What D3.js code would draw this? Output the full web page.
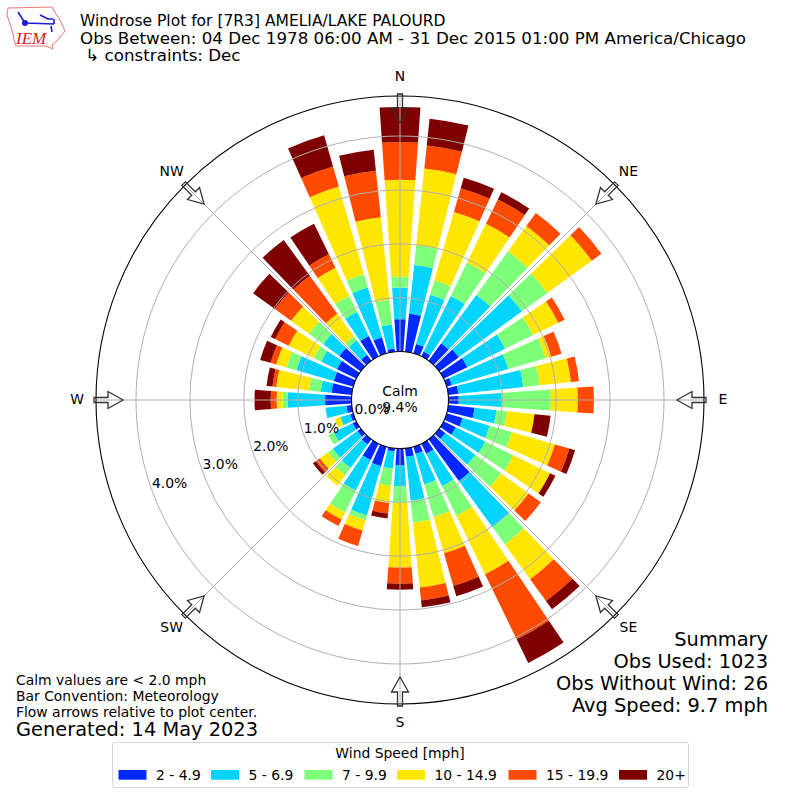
<!DOCTYPE html>
<html>
<head>
<meta charset="utf-8">
<script src="https://cdn.jsdelivr.net/npm/d3@7"></script>
<style>
	html, body { margin: 0; padding: 0; background: #fff; }
	svg { display: block; }
	text { font-family: "DejaVu Sans", sans-serif; fill: #000; }
</style>
</head>
<body>
<div id="chart"></div>
<script>
// directions in degrees, percent of obs per speed bin
const directions = [0,10,20,30,40,50,60,70,80,90,100,110,120,130,140,150,160,170,180,190,200,210,220,230,240,250,260,270,280,290,300,310,320,330,340,350];
const bin1 = [.60,.71,.18,.10,.40,.45,.49,.10,.19,.19,.49,.31,.25,.14,.96,.21,.14,.16,.31,.06,.38,.34,.12,.08,.08,.06,.10,.49,.38,.38,.40,.49,.14,.42,.31,.06];
const bin2 = [.59,.91,.95,1.15,1.11,1.45,.78,1.09,1.21,.80,.41,.52,.61,.69,1.06,.67,.59,.82,.39,.32,.95,.63,.54,.56,.39,.19,.39,.70,.20,.72,.33,.37,.33,.50,.96,.45];
const bin3 = [.20,.37,.28,.69,1.00,.58,.58,.72,.30,.91,.19,.43,.58,.59,.39,.61,.63,.41,.30,.32,.09,.45,.17,.11,.11,0,0,.09,.22,.19,.15,.33,.09,.33,.26,.46];
const bin4 = [1.80,1.43,1.32,.80,.58,1.02,.52,.11,.59,.50,.52,.83,.76,.63,.80,1.21,.70,1.21,1.21,.32,.20,.15,.24,.19,0,.11,0,.11,.61,.20,.52,.41,.52,.58,1.69,1.54];
const bin5 = [.70,.43,.46,.50,.30,.22,.13,.20,.15,.30,0,.28,0,.28,.50,1.34,.63,.24,.30,.20,.30,.13,0,.09,0,0,0,.11,.07,.11,.28,.37,.87,.28,.39,.87];
const bin6 = [.65,.50,.20,.15,0,0,0,0,0,0,.30,.11,.11,0,.19,.49,.20,.13,.11,.09,0,0,0,.07,0,0,0,.30,.11,.20,.09,.50,.82,.63,.60,.39];
const binLabels = ['2 - 4.9','5 - 6.9','7 - 9.9','10 - 14.9','15 - 19.9','20+'];
const binColors = ['#0028ff','#00d4ff','#7dff7a','#ffe600','#ff4a00','#7f0000'];
const radialTicks = [0,1,2,3,4];
const compassLabels = ['N','NE','E','SE','S','SW','W','NW'];
const compassAngles = [0,45,90,135,180,225,270,315];

const titleLines = ['Windrose Plot for [7R3] AMELIA/LAKE PALOURD','Obs Between: 04 Dec 1978 06:00 AM - 31 Dec 2015 01:00 PM America/Chicago',' \u21B3 constraints: Dec'];
const summaryLines = ['Summary','Obs Used: 1023','Obs Without Wind: 26','Avg Speed: 9.7 mph'];
const noteLines = ['Calm values are < 2.0 mph','Bar Convention: Meteorology','Flow arrows relative to plot center.'];

const width = 800;
const height = 800;
const cx = 400;
const cy = 400;
const outerR = 304;
const barWidth = 8; // degrees

const svg = d3.select('#chart')
	.append('svg')
	.attr('width', width)
	.attr('height', height);

const r = d3.scaleLinear().domain([0, 4]).range([48.5, 264]);
const rad = d => d * Math.PI / 180;

const rows = directions.map((dir, i) => ({dir: dir, a: bin1[i], b: bin2[i], c: bin3[i], d: bin4[i], e: bin5[i], f: bin6[i]}));
const series = d3.stack().keys(['a','b','c','d','e','f'])(rows);

const plot = svg.append('g').attr('transform', `translate(${cx},${cy})`);

// bars
const arc = d3.arc();
plot.selectAll('.bin')
	.data(series)
	.enter()
	.append('g')
	.attr('class', 'bin')
	.attr('fill', (d, i) => binColors[i])
	.selectAll('path')
	.data(d => d.filter(p => p[1] > p[0]))
	.enter()
	.append('path')
	.attr('d', p => arc({
		innerRadius: r(p[0]),
		outerRadius: r(p[1]),
		startAngle: rad(p.data.dir - barWidth / 2),
		endAngle: rad(p.data.dir + barWidth / 2)
	}));

// grid on top of the bars
plot.selectAll('.ring')
	.data(radialTicks.slice(1))
	.enter()
	.append('circle')
	.attr('class', 'ring')
	.attr('r', d => r(d))
	.attr('fill', 'none')
	.attr('stroke', '#b0b0b0')
	.attr('stroke-width', 1);

plot.selectAll('.spoke')
	.data(compassAngles)
	.enter()
	.append('line')
	.attr('class', 'spoke')
	.attr('x1', d => r(0) * Math.sin(rad(d)))
	.attr('y1', d => -r(0) * Math.cos(rad(d)))
	.attr('x2', d => outerR * Math.sin(rad(d)))
	.attr('y2', d => -outerR * Math.cos(rad(d)))
	.attr('stroke', '#b0b0b0')
	.attr('stroke-width', 1);

// center hole and outer frame
plot.append('circle')
	.attr('r', r(0))
	.attr('fill', '#fff')
	.attr('stroke', '#000')
	.attr('stroke-width', 1.1);
plot.append('circle')
	.attr('r', outerR)
	.attr('fill', 'none')
	.attr('stroke', '#000')
	.attr('stroke-width', 1.1);

// flow arrows, pointing to the center
const arrowShape = [[-2.5,-306],[2.5,-306],[2.5,-292],[8.5,-292],[0,-277],[-8.5,-292],[-2.5,-292]];
plot.selectAll('.arrow')
	.data(compassAngles)
	.enter()
	.append('polygon')
	.attr('class', 'arrow')
	.attr('points', arrowShape.map(p => p.join(',')).join(' '))
	.attr('transform', d => `rotate(${d})`)
	.attr('fill', 'none')
	.attr('stroke', '#333')
	.attr('stroke-width', 1.3)
	.attr('stroke-linejoin', 'miter');

// compass labels
plot.selectAll('.compass')
	.data(compassLabels)
	.enter()
	.append('text')
	.attr('class', 'compass')
	.attr('x', (d, i) => 323 * Math.sin(rad(compassAngles[i])))
	.attr('y', (d, i) => -323 * Math.cos(rad(compassAngles[i])) - 1)
	.attr('text-anchor', 'middle')
	.attr('dominant-baseline', 'central')
	.attr('font-size', '13.9px')
	.text(d => d);

// radial labels
plot.selectAll('.rlabel')
	.data(radialTicks)
	.enter()
	.append('text')
	.attr('class', 'rlabel')
	.attr('x', d => r(d) * Math.sin(rad(250)))
	.attr('y', d => -r(d) * Math.cos(rad(250)) - 2.5)
	.attr('font-size', '13.9px')
	.text(d => d.toFixed(1) + '%');

// calm label
plot.append('text').attr('y', -4).attr('text-anchor', 'middle').attr('font-size', '13.9px').text('Calm');
plot.append('text').attr('y', 12).attr('text-anchor', 'middle').attr('font-size', '13.9px').text('9.4%');

// title, first line is set a bit smaller
svg.selectAll('.title')
	.data(titleLines)
	.enter()
	.append('text')
	.attr('class', 'title')
	.attr('x', 80)
	.attr('y', (d, i) => 26 + i * 17.5)
	.attr('font-size', (d, i) => i == 0 ? '15.5px' : '16.7px')
	.style('white-space', 'pre')
	.text(d => d);

// summary, right side
svg.selectAll('.summary')
	.data(summaryLines)
	.enter()
	.append('text')
	.attr('class', 'summary')
	.attr('x', 768)
	.attr('y', (d, i) => 646 + i * 22)
	.attr('text-anchor', 'end')
	.attr('font-size', '19.4px')
	.text(d => d);

// notes, left side
svg.selectAll('.note')
	.data(noteLines)
	.enter()
	.append('text')
	.attr('class', 'note')
	.attr('x', 16)
	.attr('y', (d, i) => 685 + i * 16)
	.attr('font-size', '13.9px')
	.text(d => d);
svg.append('text').attr('x', 16).attr('y', 736).attr('font-size', '19.4px').text('Generated: 14 May 2023');

// legend
const legend = svg.append('g');
legend.append('rect')
	.attr('x', 112.5).attr('y', 742.5)
	.attr('width', 576).attr('height', 45)
	.attr('rx', 2.5)
	.attr('fill', '#fff')
	.attr('stroke', '#d5d5d5');
legend.append('text')
	.attr('x', 400).attr('y', 758)
	.attr('text-anchor', 'middle')
	.attr('font-size', '13.9px')
	.text('Wind Speed [mph]');
const patchX = [118.5, 211, 304.5, 397, 508.5, 619];
const keys = legend.selectAll('.key')
	.data(binLabels)
	.enter()
	.append('g')
	.attr('class', 'key')
	.attr('transform', (d, i) => `translate(${patchX[i]},770)`);
keys.append('rect')
	.attr('width', 28).attr('height', 9.7)
	.attr('fill', (d, i) => binColors[i]);
keys.append('text')
	.attr('x', 37.5).attr('y', 10)
	.attr('font-size', '13.9px')
	.text(d => d);

// IEM logo
const logo = svg.append('g');
logo.append('path')
	.attr('d', 'M8,8 L52,7 L56,14 L60,20 L65,31 L61,36 L57,41 L52,45 L53,49 L46,46 L16,46 L14,40 L13,34 L10,24 L7,15 Z')
	.attr('fill', '#fff')
	.attr('stroke', '#e87878')
	.attr('stroke-width', 1);
logo.append('path')
	.attr('d', 'M25,23 L54,24 M25,23 L18,12 M54,19 L54,24 M40,15 L48,19 L53,19 M51,26 L52,32')
	.attr('fill', 'none')
	.attr('stroke', '#1a1ad8')
	.attr('stroke-width', 1.6);
logo.append('circle').attr('cx', 25).attr('cy', 23).attr('r', 3).attr('fill', '#1a1ad8');
logo.append('text')
	.attr('x', 16).attr('y', 44)
	.attr('font-size', '17px')
	.attr('font-style', 'italic')
	.style('font-family', '"Liberation Serif", serif')
	.style('fill', '#d42020')
	.text('IEM');
</script>
</body>
</html>
